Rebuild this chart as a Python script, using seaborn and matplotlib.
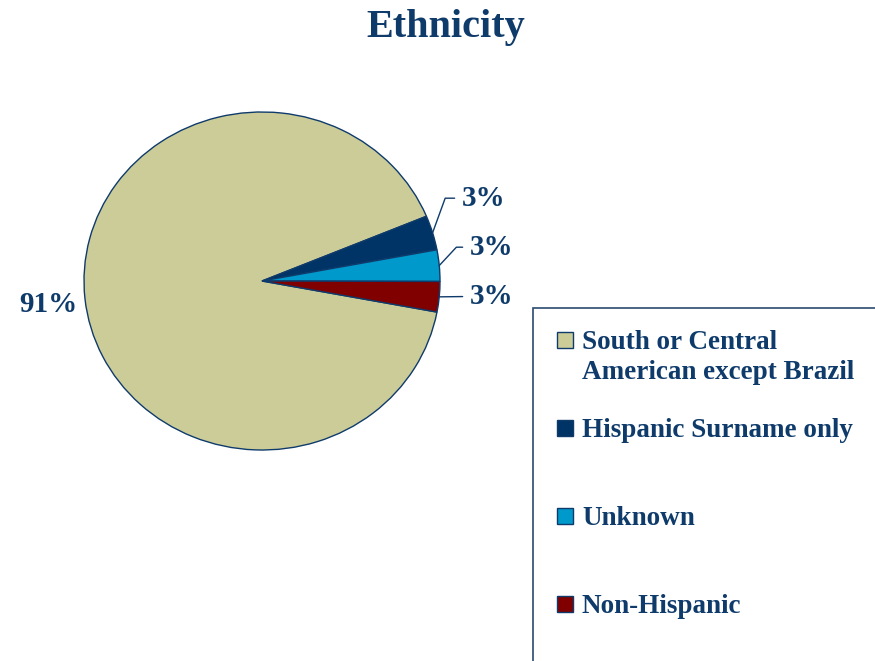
#! /usr/bin/env python3

"""
Ethnicity pie chart
"""

import numpy as np
import pandas as pd
import matplotlib.pyplot as plt
import seaborn as sns
from matplotlib.patches import Rectangle

# data
categories = ['South or Central\nAmerican except Brazil', 'Hispanic Surname only', 'Unknown', 'Non-Hispanic']
shares = [90.8, 3.3, 3.0, 2.9]
colors = ['#CCCC99', '#003366', '#0099CC', '#800000']

sns.set_theme(style='white')
plt.rcParams['font.family'] = ['Liberation Serif', 'DejaVu Serif']
plt.rcParams['font.weight'] = 'bold'

navy = '#0f3b6b'
W, H = 875, 661


def fig_xy(x, y):
    # pixel position (from top left) -> figure fraction
    return x / W, 1 - y / H


df = pd.DataFrame({'category': categories, 'share': shares, 'color': colors})

fig = plt.figure(figsize=(W / 100, H / 100), dpi=100)

# pie box in pixels: x 84..440, y 112..450
ax = fig.add_axes([84 / W, 1 - 450 / H, 356 / W, 338 / H])
wedges, _ = ax.pie(df['share'], colors=df['color'], startangle=-10.6, counterclock=False,
                   wedgeprops=dict(edgecolor=navy, linewidth=1.0))
ax.set_aspect('auto')
ax.set_xlim(-1, 1)
ax.set_ylim(-1, 1)
ax.axis('off')

# percentage labels; (text x, text y, elbow angle) per wedge, None = no leader
label_pos = [(-1.2, -0.14, None), (1.124, 0.49, 70), (1.169, 0.20, 47), (1.169, -0.09, 0)]
for w, share, (tx, ty, ang) in zip(wedges, df['share'], label_pos):
    txt = f'{share:.0f}%'
    if ang is None:
        ax.text(tx, ty, txt, ha='center', va='center', fontsize=21, color=navy,
                fontweight='bold', clip_on=False)
        continue
    mid = np.deg2rad((w.theta1 + w.theta2) / 2)
    anchor = (np.cos(mid), np.sin(mid))
    if ang == 0:
        conn = 'arc3,rad=0'
    else:
        conn = f'angle,angleA=0,angleB={ang},rad=0'
    ax.annotate(txt, xy=anchor, xytext=(tx, ty), ha='left', va='center', fontsize=21,
                color=navy, fontweight='bold', annotation_clip=False,
                arrowprops=dict(arrowstyle='-', color=navy, lw=1.0, connectionstyle=conn,
                                shrinkA=3, shrinkB=0))

# title
fig.text(*fig_xy(446, 28), 'Ethnicity', ha='center', va='center', fontsize=29,
         color=navy, fontweight='bold')

# legend box runs off the right and bottom edges
x0, y0 = fig_xy(533, 308)
fig.patches.append(Rectangle((x0, -0.1), 1.2 - x0, y0 + 0.1, transform=fig.transFigure,
                             facecolor='white', edgecolor='#2b4a6f', linewidth=1.2))

entry_y = [340, 428, 516, 604]
for (_, row), y in zip(df.iterrows(), entry_y):
    sx, sy = fig_xy(557, y + 8)
    fig.patches.append(Rectangle((sx, sy), 16 / W, 16 / H, transform=fig.transFigure,
                                 facecolor=row['color'], edgecolor=navy, linewidth=1.0))
    tx, ty = fig_xy(582, y - 10)
    fig.text(tx, ty, row['category'], ha='left', va='top', fontsize=19.5, color=navy,
             fontweight='bold', linespacing=1.25)

fig.savefig('out.png', dpi=100)
